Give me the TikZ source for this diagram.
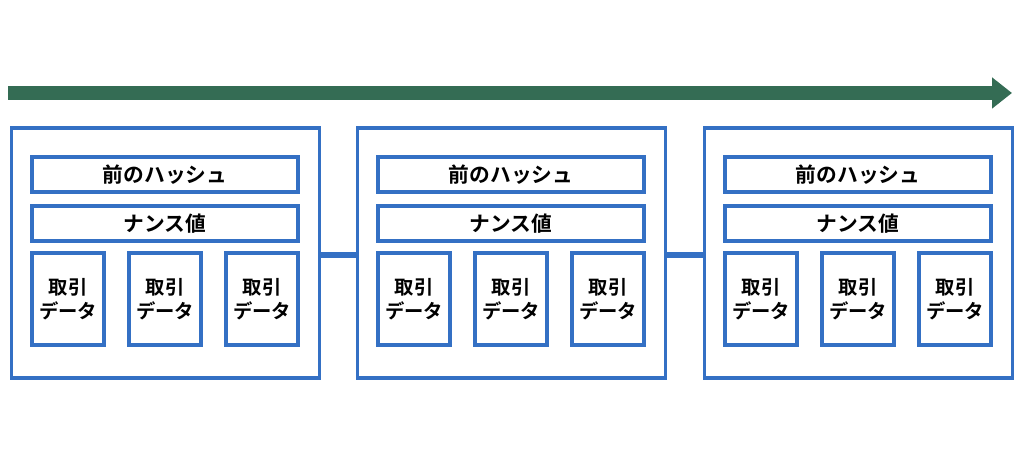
\documentclass[tikz,border=0pt]{standalone}
\usepackage{fontspec}
\setmainfont{Noto Sans CJK JP}[BoldFont={Noto Sans CJK JP Bold}]
\usetikzlibrary{arrows.meta, positioning}
\definecolor{chainblue}{RGB}{52,112,196}
\definecolor{timegreen}{RGB}{52,108,84}

\begin{document}
\begin{tikzpicture}[x=0.02cm, y=-0.02cm,
    box/.style={draw=chainblue, line width=2.2pt, fill=white, inner sep=0pt},
    field/.style={box, minimum width=5.32cm, minimum height=0.7cm, font=\bfseries\fontsize{11.8}{13}\selectfont},
    tx/.style={box, minimum width=1.44cm, minimum height=1.84cm, align=center, font=\bfseries\fontsize{11}{14}\selectfont}]
          \useasboundingbox (0,0) rectangle (1024,469);
          % time axis
          \coordinate (t0) at (8,93);
          \coordinate (t1) at (1012,93);
          \draw [timegreen, line width=7.5pt, -{Triangle[length=0.4cm, width=0.6cm]}] (t0) -- (t1);

          \foreach \b/\dx in {1/0, 2/346, 3/693} {
            \node [box, minimum width=6.16cm, minimum height=5cm] (block\b) at (165.5+\dx,253) {};
            \node [field] (hash\b) at (165+\dx,174.5) {前のハッシュ};
            \node [field] (nonce\b) at (165+\dx,223.5) {ナンス値};
            \node [tx] (txa\b) at (68+\dx,299) {取引\\データ};
            \node [tx] (txb\b) at (165+\dx,299) {取引\\データ};
            \node [tx] (txc\b) at (262+\dx,299) {取引\\データ};
          }

          % chain links
          \draw [chainblue, line width=3.4pt] (block1.east |- 0,255) -- (block2.west |- 0,255);
          \draw [chainblue, line width=3.4pt] (block2.east |- 0,255) -- (block3.west |- 0,255);
        \end{tikzpicture}
\end{document}
